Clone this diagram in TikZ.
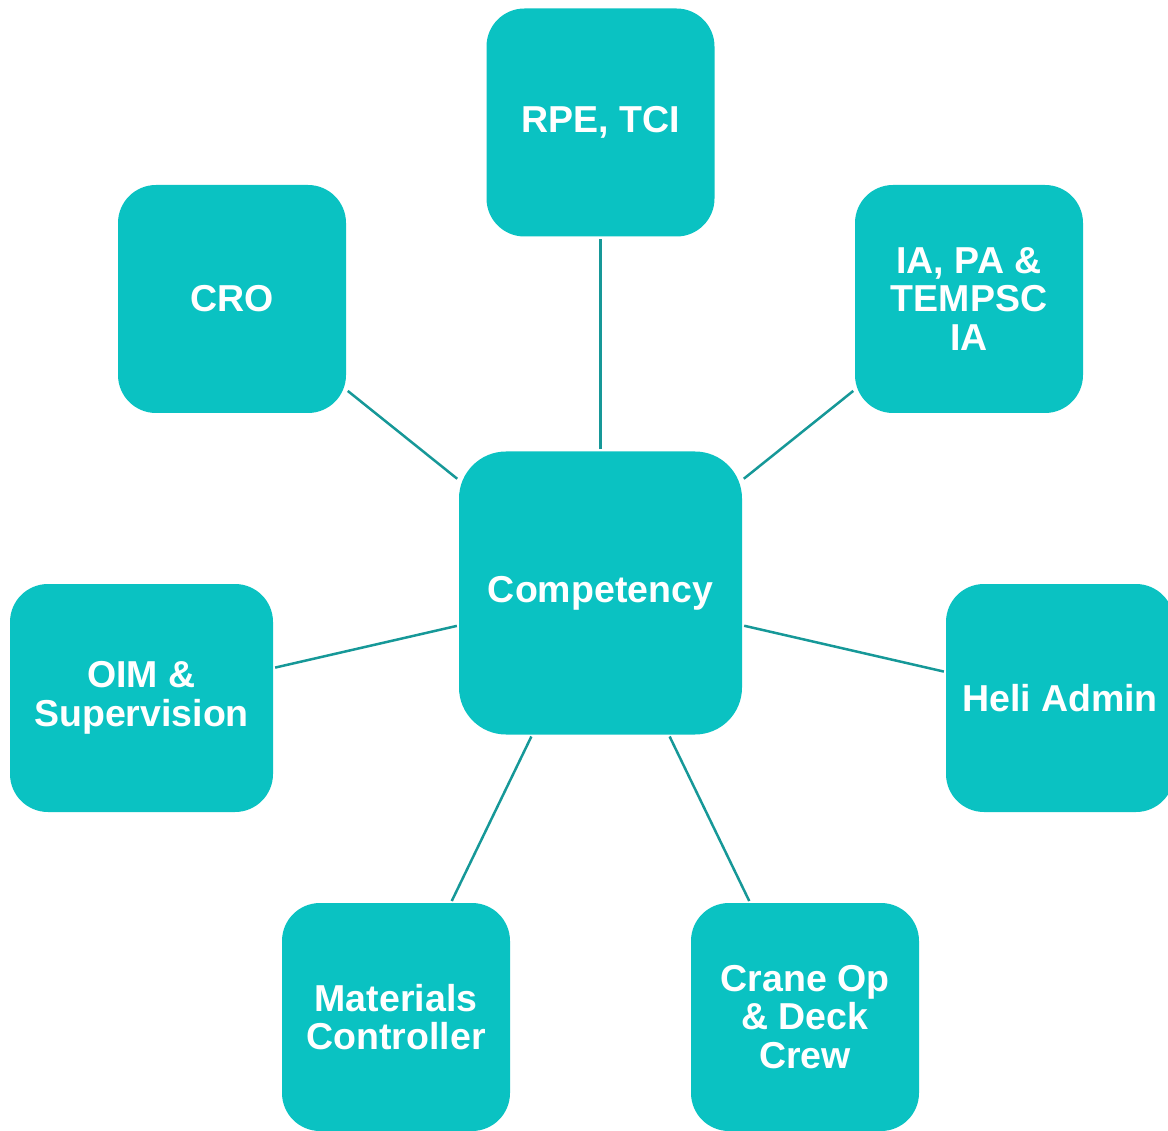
\documentclass[tikz,border=0pt]{standalone}
\usepackage{fontspec}
\setmainfont{Liberation Sans}
\usepackage{tikz}
\usetikzlibrary{calc}
\definecolor{tealfill}{RGB}{10,194,194}
\definecolor{tealline}{RGB}{22,152,152}
\tikzstyle{box}=[fill=tealfill, text=white, font=\bfseries\fontsize{37.5}{38.5}\selectfont, align=center, inner sep=0pt, minimum width=228pt, minimum height=228pt, rounded corners=38pt]
\tikzstyle{link}=[draw=tealline, line width=2.5pt, shorten <=2pt, shorten >=2pt]

\begin{document}
\begin{tikzpicture}[x=1pt,y=-1pt]
\useasboundingbox (0,0) rectangle (1168,1131);
\node[box, minimum width=283pt, minimum height=283pt, rounded corners=47pt] (ctr) at (600.5,593) {Competency};
\node[box] (rpe) at (600.5,122.5) {RPE, TCI};
\node[box] (cro) at (232,299) {CRO};
\node[box] (ia) at (969,299) {IA, PA \&\\TEMPSC\\IA};
\node[box, minimum width=263pt] (oim) at (141.5,698) {OIM \&\\Supervision};
\node[box] (heli) at (1060,698) {Heli Admin};
\node[box] (mat) at (396,1017) {Materials\\Controller};
\node[box] (crane) at (805,1017) {Crane Op\\\& Deck\\Crew};
\foreach \n in {rpe,cro,ia,oim,heli,mat,crane} {
	\draw[link] (ctr) -- (\n);
}
\end{tikzpicture}
\end{document}
